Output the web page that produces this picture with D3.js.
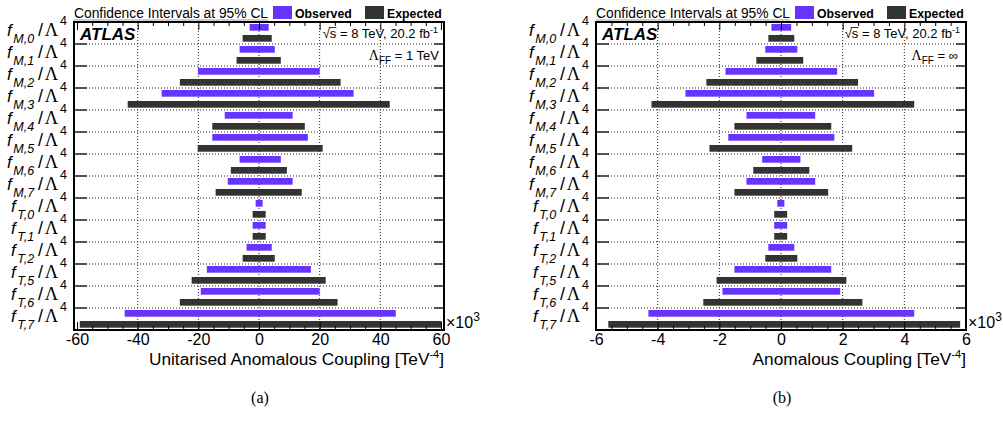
<!DOCTYPE html>
<html>
<head>
<meta charset="utf-8">
<script src="https://cdn.jsdelivr.net/npm/d3@7"></script>
<style>
  body { margin: 0; background: #fff; }
  svg { font-family: "Liberation Sans", Arial, Helvetica, sans-serif; }
</style>
</head>
<body>
<svg id="svg1" width="1003" height="423"></svg>
<script>
// coupling names (subscripts), top to bottom
const couplings = ["M,0","M,1","M,2","M,3","M,4","M,5","M,6","M,7","T,0","T,1","T,2","T,5","T,6","T,7"];

// (a) unitarised limits, x10^3 TeV^-4
const obsUnitLo = [-3.1,-6.4,-20.1,-32.1,-11.3,-15.4,-6.4,-10.3,-1.1,-2.1,-4.1,-17.2,-19.2,-44.3];
const obsUnitHi = [ 3.2, 5.2, 20.0, 31.2, 11.1, 16.1, 7.2, 11.1, 1.2, 2.2, 4.2, 17.1, 20.0, 45.1];
const expUnitLo = [-5.4,-7.4,-26.1,-43.3,-15.4,-20.2,-9.3,-14.3,-2.1,-2.1,-5.4,-22.2,-26.1,-59.1];
const expUnitHi = [ 4.2, 7.2, 26.9, 43.1, 15.1, 21.0, 9.2, 14.1, 2.2, 2.2, 5.2, 22.0, 25.9, 60.2];

// (b) non-unitarised limits, x10^3 TeV^-4
const obsLo = [-0.31,-0.51,-1.80,-3.10,-1.12,-1.71,-0.61,-1.12,-0.12,-0.22,-0.41,-1.51,-1.90,-4.30];
const obsHi = [ 0.33, 0.53, 1.82, 3.02, 1.11, 1.73, 0.63, 1.11, 0.11, 0.20, 0.43, 1.63, 1.92, 4.32];
const expLo = [-0.41,-0.80,-2.42,-4.20,-1.51,-2.32,-0.90,-1.51,-0.22,-0.22,-0.51,-2.09,-2.52,-5.60];
const expHi = [ 0.43, 0.72, 2.50, 4.32, 1.63, 2.31, 0.92, 1.53, 0.20, 0.20, 0.53, 2.12, 2.64, 5.81];

const ticksA = [-60,-40,-20,0,20,40,60];
const ticksB = [-6,-4,-2,0,2,4,6];

const obsColor = "#6633ff";
const expColor = "#333333";
const serif = "Liberation Serif, Times New Roman, serif";

let svg = d3.select("#svg1");

function drawPanel(p){
  let g = svg.append("g");
  let x = d3.scaleLinear().domain(p.domain).range([p.left, p.right]);
  let y = d3.scaleBand().domain(couplings).range([22, 330]).padding(0);
  let bw = y.bandwidth();

  // dotted grid
  g.selectAll(".vgrid").data(p.ticks.slice(1, -1)).enter().append("line")
    .attr("x1", d => x(d)).attr("x2", d => x(d))
    .attr("y1", 22).attr("y2", 330)
    .attr("stroke", "#222").attr("stroke-width", 1).attr("stroke-dasharray", "1,2");
  let bounds = couplings.slice(1).map(c => y(c));
  g.selectAll(".hgrid").data(bounds).enter().append("line")
    .attr("x1", p.left).attr("x2", p.right)
    .attr("y1", d => d).attr("y2", d => d)
    .attr("stroke", "#222").attr("stroke-width", 1).attr("stroke-dasharray", "1,2");

  // bars
  let rows = couplings.map((c, i) => ({c: c, oLo: p.oLo[i], oHi: p.oHi[i], eLo: p.eLo[i], eHi: p.eHi[i]}));
  g.selectAll(".obs").data(rows).enter().append("rect")
    .attr("x", d => x(d.oLo)).attr("width", d => x(d.oHi) - x(d.oLo))
    .attr("y", d => y(d.c) + bw*0.09).attr("height", bw*0.305)
    .attr("fill", obsColor);
  g.selectAll(".exp").data(rows).enter().append("rect")
    .attr("x", d => x(d.eLo)).attr("width", d => x(d.eHi) - x(d.eLo))
    .attr("y", d => y(d.c) + bw*0.59).attr("height", bw*0.305)
    .attr("fill", expColor);

  // x axes: major + minor ticks, bottom and top, pointing inwards
  let minor = d3.range(p.ticks[0], p.ticks[p.ticks.length-1] + p.minorStep/2, p.minorStep)
      .filter(v => !p.ticks.some(t => Math.abs(t - v) < 1e-9));
  g.append("g").attr("transform", "translate(0,330)")
    .call(d3.axisBottom(x).tickValues(p.ticks).tickSizeInner(-8).tickSizeOuter(0).tickPadding(4).tickFormat(d => String(d)))
    .call(a => a.select(".domain").remove())
    .call(a => a.selectAll("text").attr("font-size", 16).attr("font-family", "Liberation Sans, Arial, sans-serif").attr("fill", "#000"));
  g.append("g").attr("transform", "translate(0,330)")
    .call(d3.axisBottom(x).tickValues(minor).tickSizeInner(-4).tickSizeOuter(0).tickFormat(""))
    .call(a => a.select(".domain").remove());
  g.append("g").attr("transform", "translate(0,22)")
    .call(d3.axisTop(x).tickValues(p.ticks).tickSizeInner(-8).tickSizeOuter(0).tickFormat(""))
    .call(a => a.select(".domain").remove());
  g.append("g").attr("transform", "translate(0,22)")
    .call(d3.axisTop(x).tickValues(minor).tickSizeInner(-4).tickSizeOuter(0).tickFormat(""))
    .call(a => a.select(".domain").remove());

  // y ticks at row boundaries
  g.selectAll(".ytl").data(bounds).enter().append("line")
    .attr("x1", p.left).attr("x2", p.left + 13).attr("y1", d => d).attr("y2", d => d)
    .attr("stroke", "#333").attr("stroke-width", 1.6);
  g.selectAll(".ytr").data(bounds).enter().append("line")
    .attr("x1", p.right - 10).attr("x2", p.right).attr("y1", d => d).attr("y2", d => d)
    .attr("stroke", "#333").attr("stroke-width", 1.6);

  // frame
  g.append("rect").attr("x", p.left).attr("y", 22).attr("width", p.right - p.left).attr("height", 308)
    .attr("fill", "none").attr("stroke", "#000").attr("stroke-width", 2);

  // y labels  f_{X,n} / Lambda^4
  couplings.forEach(c => {
    let t = g.append("text").attr("x", p.left - 7).attr("y", y(c) + 14)
      .attr("text-anchor", "end").attr("font-size", 17).attr("fill", "#000");
    t.append("tspan").attr("font-style", "italic").text("f");
    t.append("tspan").attr("font-style", "italic").attr("font-size", 12.5).attr("dx", 1.5).attr("dy", 7).text(c);
    t.append("tspan").attr("font-size", 18).attr("dx", 4).attr("dy", -7).text("/");
    t.append("tspan").attr("font-family", serif).attr("font-size", 18.5).attr("dx", 1.5).text("\u039B");
    t.append("tspan").attr("font-size", 12.5).attr("dx", 2).attr("dy", -11).text("4");
  });

  // x10^3
  let m = g.append("text").attr("x", p.right + 2).attr("y", 328).attr("font-size", 16).attr("fill", "#000");
  m.append("tspan").text("\u00D710");
  m.append("tspan").attr("font-size", 12).attr("dy", -7).text("3");

  // x title
  let xt = g.append("text").attr("x", p.right).attr("y", 365).attr("text-anchor", "end")
    .attr("font-size", 17.3).attr("fill", "#000");
  xt.append("tspan").text(p.xtitle + " [TeV");
  xt.append("tspan").attr("font-size", 11).attr("dy", -7).text("-4");
  xt.append("tspan").attr("dy", 7).text("]");

  // panel title and legend
  let title = g.append("text").attr("x", p.left).attr("y", 18).attr("font-size", 13.8).attr("fill", "#000")
    .text("Confidence Intervals at 95% CL");
  let tw = title.node().getComputedTextLength();
  g.append("line").attr("x1", p.left).attr("x2", p.left + tw).attr("y1", 20).attr("y2", 20)
    .attr("stroke", "#777").attr("stroke-width", 0.7);
  [[obsColor, "Observed", p.legX], [expColor, "Expected", p.legX + 92]].forEach(l => {
    g.append("rect").attr("x", l[2]).attr("y", 6).attr("width", 19).attr("height", 13).attr("fill", l[0]);
    g.append("text").attr("x", l[2] + 22).attr("y", 17.5).attr("font-size", 12.3).attr("font-weight", "bold")
      .attr("fill", "#000").text(l[1]);
  });

  // ATLAS
  g.append("text").attr("x", p.left + 6).attr("y", 40).attr("font-size", 17)
    .attr("font-weight", "bold").attr("font-style", "italic").attr("fill", "#000").text("ATLAS");

  // sqrt(s)
  let s = g.append("text").attr("x", p.right - 6).attr("y", 38).attr("text-anchor", "end")
    .attr("font-size", 13).attr("fill", "#000");
  s.append("tspan").text("\u221As = 8 TeV, 20.2 fb");
  s.append("tspan").attr("font-size", 9).attr("dy", -5).text("-1");
  let sNode = s.node();
  let sx = sNode.getStartPositionOfChar(1).x;
  let sw = sNode.getSubStringLength(1, 1);
  g.append("line").attr("x1", sx - 1).attr("x2", sx + sw).attr("y1", 27.5).attr("y2", 27.5)
    .attr("stroke", "#000").attr("stroke-width", 0.8);

  // Lambda_FF
  let lf = g.append("text").attr("x", p.right - p.lfPad).attr("y", 60).attr("text-anchor", "end")
    .attr("font-size", 13).attr("fill", "#000");
  lf.append("tspan").attr("font-family", serif).attr("font-size", 14).text("\u039B");
  lf.append("tspan").attr("font-size", 10).attr("dy", 4).text("FF");
  lf.append("tspan").attr("dy", -4).text(" = " + p.lff);

  // panel tag
  g.append("text").attr("x", (p.left + p.right) / 2 + 1).attr("y", 403).attr("text-anchor", "middle")
    .attr("font-family", serif).attr("font-size", 16).attr("fill", "#000")
    .text(p.tag);
}

drawPanel({left: 74, right: 444, domain: [-61, 61], ticks: ticksA, minorStep: 5,
  oLo: obsUnitLo, oHi: obsUnitHi, eLo: expUnitLo, eHi: expUnitHi,
  xtitle: "Unitarised Anomalous Coupling", lff: "1 TeV", lfPad: 5, legX: 273, tag: "(a)"});
drawPanel({left: 596, right: 966, domain: [-6, 6], ticks: ticksB, minorStep: 0.5,
  oLo: obsLo, oHi: obsHi, eLo: expLo, eHi: expHi,
  xtitle: "Anomalous Coupling", lff: "\u221E", lfPad: 8, legX: 795, tag: "(b)"});
</script>
</body>
</html>
